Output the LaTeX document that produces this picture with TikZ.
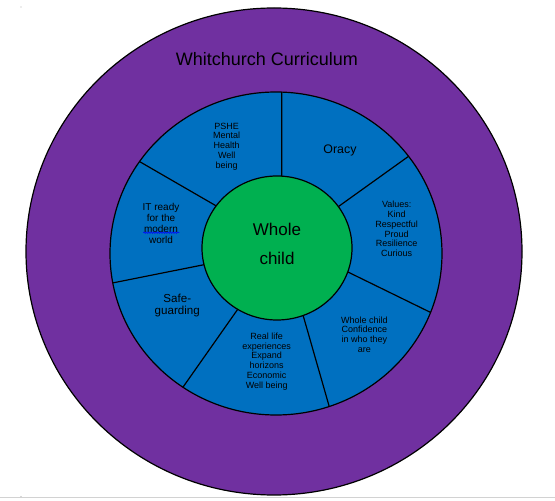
\documentclass[tikz,border=0pt]{standalone}
\usepackage{fontspec}
\setmainfont{Liberation Sans}
\usetikzlibrary{calc,decorations.pathmorphing}
\definecolor{ringpurple}{HTML}{7030A0}
\definecolor{ringblue}{HTML}{0070C0}
\definecolor{coregreen}{HTML}{00B050}
\begin{document}
\begin{tikzpicture}[x=1pt, y=1pt, line width=1.2pt, every node/.style={align=center, inner sep=0pt, font=\fontsize{9}{9.8}\selectfont}]
  \useasboundingbox (0,0) rectangle (555,501);
  \draw[gray!35, line width=1pt] (0,3) -- (555,3);
  \fill[gray!60] (21,494) circle (0.6) (21,4.5) circle (0.6);
  \draw[fill=ringpurple] (274,249.5) ellipse (248 and 243.5);
  \draw[fill=ringblue] (276,247.5) ellipse (166 and 161.5);
  \coordinate (gc) at (277,253);
  \coordinate (bc) at (276,247.5);
  \foreach \i/\o in {86.4/88, 35.1/37, -19.4/-21.4, -69.6/-71.3, -121.6/-124.1, -166.6/-169.5, 144.2/145.3}
    \draw ($(gc)+(\i:75 and 72)$) -- ($(bc)+(\o:166 and 161.5)$);
  \draw[fill=coregreen] (gc) ellipse (75 and 72);
  \node[font=\fontsize{18}{20}\selectfont] (title) at (267,442.3) {Whitchurch Curriculum};
  \node[font=\fontsize{17}{28.3}\selectfont] (core) at (277,257) {Whole\\child};
  \node (pshe) at (226.7,354.5) {PSHE\\Mental\\Health\\Well\\being};
  \node[font=\fontsize{12.4}{14}\selectfont] (oracy) at (340,350.5) {Oracy};
  \node (values) at (396.7,272) {Values:\\Kind\\Respectful\\Proud\\Resilience\\Curious};
  \node (wholechild) at (364.3,166.5) {Whole child\\Confidence\\in who they\\are};
  \node (reallife) at (266.7,139.5) {Real life\\experiences\\Expand\\horizons\\Economic\\Well being};
  \node[font=\fontsize{11.6}{12.3}\selectfont] (safe) at (177.3,195.5) {Safe-\\guarding};
  \node[font=\fontsize{10}{11}\selectfont] (itready) at (161,278) {IT ready\\for the\\modern\\world};
  \draw[blue, line width=0.5pt, decorate, decoration={snake, amplitude=0.8pt, segment length=2.4pt}] (143.3,268.3) -- (179.3,268.3);
\end{tikzpicture}
\end{document}
